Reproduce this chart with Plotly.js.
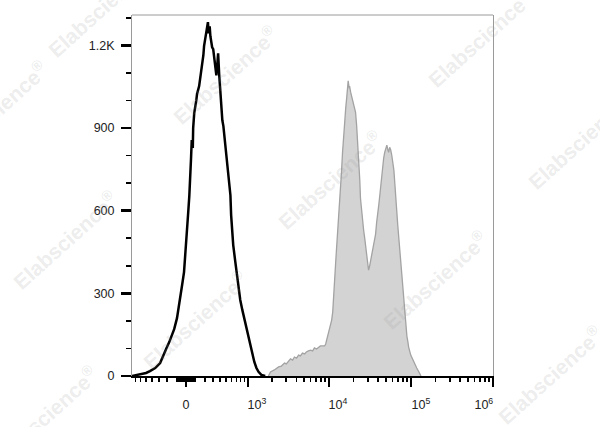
<!DOCTYPE html>
<html>
<head>
<meta charset="utf-8">
<script src="https://cdn.plot.ly/plotly-3.0.1.min.js"></script>
<style>html,body{margin:0;padding:0;background:#fff;}#chart{width:600px;height:427px;}</style>
</head>
<body>
<div id="chart"></div>
<script>
// ---- data (x in display channels of a biexponential scale, y in event counts) ----
const controlChannel = [0,23,40,51,66,80,88,97,106,111,120,128,134,140,143,148,151,154,157,160,163,166,168,170,173,174,177,183,185,191,194,197,200,203,205,208,211,214,216,218,221,223,225,228,231,234,237,240,243,245,248,251,254,257,260,263,265,271,275,280,282,288,294,300,308,314,322,331,337,342,348,354,360,368,379];
const controlCount   = [0,5,11,18,29,47,73,98,123,141,170,210,254,297,334,377,424,475,537,595,653,718,791,856,827,899,954,1001,1023,1052,1077,1102,1131,1164,1197,1218,1240,1262,1284,1244,1269,1233,1211,1193,1186,1153,1124,1091,1135,1171,1095,1023,965,928,907,870,827,776,725,656,584,475,413,348,276,239,192,145,105,76,51,29,15,4,0];

const stainedChannel = [388,394,405,417,425,434,439,445,451,457,462,468,474,479,485,491,496,502,508,514,519,525,531,536,542,548,551,554,556,559,562,565,568,571,574,576,579,582,585,588,591,593,596,599,602,605,608,611,613,615,618,619,622,625,628,631,633,636,639,642,645,648,650,653,656,659,662,665,668,671,673,676,679,682,685,688,690,693,696,699,702,705,708,710,713,716,719,722,725,728,730,733,736,739,742,745,748,750,753,756,759,762,765,768,770,773,776,779,782,785,787,793,799,805,810,816,822];
const stainedCount   = [0,15,22,33,36,47,44,54,62,58,69,65,76,73,83,80,87,91,94,91,102,98,105,109,109,109,116,131,145,160,174,189,203,232,283,341,403,464,522,573,609,674,740,812,874,928,972,1012,1044,1071,1044,1052,1030,1015,1001,990,975,957,910,856,783,711,645,595,558,529,500,464,435,406,384,399,421,439,457,479,493,515,558,602,620,656,693,740,765,791,812,827,838,820,812,830,820,801,776,747,693,638,602,548,500,457,403,348,305,261,221,181,145,123,105,76,58,44,29,15,0];

const xTickValues = [0, 1e3, 1e4, 1e5, 1e6];
const xTickLabels = ['0', '10<sup>3</sup>', '10<sup>4</sup>', '10<sup>5</sup>', '10<sup>6</sup>'];
const xMinorValues = [-700,-600,-500,-400,-300,-200,-100,-90,-80,-70,-60,-50,-40,-30,-20,-10,10,20,30,40,50,60,70,80,90,
  100,200,300,400,500,600,700,800,900,
  2e3,3e3,4e3,5e3,6e3,7e3,8e3,9e3,
  2e4,3e4,4e4,5e4,6e4,7e4,8e4,9e4,
  2e5,3e5,4e5,5e5,6e5,7e5,8e5,9e5];
const yTickValues = [0, 300, 600, 900, 1200];
const yTickLabels = ['0', '300', '600', '900', '1.2K'];
const yMinorValues = [100,200,400,500,700,800,1000,1100,1300];

const watermarkText = 'Elabscience<sup>®</sup>';
const watermarkCenters = [[100,8],[-5,110],[225,75],[480,38],[330,180],[580,140],[65,240],[195,320],[435,280],[550,375],[45,415]];

// ---- biexponential (arcsinh) display transform: intensity -> channel ----
function toChannel(v){ return 153.6 + 101.3*Math.asinh(v/361.7); }
const xRange = [0, 1027];
const chPerPx = (xRange[1]-xRange[0]) / 361;
const labelShiftPx = [0, 9, 9, 10, -9];

const traces = [
  {x: stainedChannel, y: stainedCount, type:'scatter', mode:'lines', fill:'tozeroy',
   fillcolor:'#d3d3d3', line:{color:'#a3a3a3', width:1.3}, hoverinfo:'skip'},
  {x: controlChannel, y: controlCount, type:'scatter', mode:'lines',
   line:{color:'#000', width:2.5}, hoverinfo:'skip'},
  {x: [], y: [], xaxis:'x2', type:'scatter', mode:'lines', hoverinfo:'skip'}
];

const font = {family:'"Liberation Sans", Arial, sans-serif', size:12.5, color:'#222'};

const layout = {
  width:600, height:427,
  margin:{l:132, r:107, t:15, b:51},
  paper_bgcolor:'#fff', plot_bgcolor:'#fff',
  showlegend:false,
  font: font,
  xaxis:{
    range: xRange, showgrid:false, zeroline:false,
    showline:true, linecolor:'#000', linewidth:2,
    tickmode:'array', tickvals: xTickValues.map(toChannel), showticklabels:false,
    ticks:'outside', ticklen:9, tickwidth:2.5, tickcolor:'#000',
    minor:{tickmode:'array', tickvals: xMinorValues.map(toChannel), ticks:'outside', ticklen:4, tickwidth:1.5, tickcolor:'#000', showgrid:false}
  },
  xaxis2:{
    range: xRange, overlaying:'x', anchor:'y', side:'bottom', showgrid:false, zeroline:false, showline:false,
    tickmode:'array', tickvals: xTickValues.map((v,i)=>toChannel(v)+labelShiftPx[i]*chPerPx), ticktext: xTickLabels,
    ticks:'outside', ticklen:17, tickcolor:'rgba(0,0,0,0)', tickfont: font
  },
  yaxis:{
    range:[0,1310], showgrid:false, zeroline:false,
    showline:true, linecolor:'#9a9a9a', linewidth:1, mirror:true,
    tickmode:'array', tickvals: yTickValues, ticktext: yTickLabels,
    ticks:'outside', ticklen:10, tickwidth:2.5, tickcolor:'#000', tickfont: font, ticklabelstandoff:4,
    minor:{tickmode:'array', tickvals: yMinorValues, ticks:'outside', ticklen:5, tickwidth:1.5, tickcolor:'#000', showgrid:false}
  },
  shapes:[{type:'line', xref:'paper', yref:'paper', x0:0, x1:1, y0:1, y1:1, line:{color:'#9a9a9a', width:1}}],
  annotations: watermarkCenters.map(c => ({
    text: watermarkText, xref:'paper', yref:'paper',
    x: (c[0]-132)/361, y: (376-c[1])/361, xanchor:'center', yanchor:'middle',
    showarrow:false, textangle:-42,
    font:{family:'"Liberation Sans", Arial, sans-serif', size:21, color:'rgba(150,150,150,0.18)', weight:'bold'}
  }))
};

Plotly.newPlot('chart', traces, layout, {staticPlot:true, displayModeBar:false});
</script>
</body>
</html>
